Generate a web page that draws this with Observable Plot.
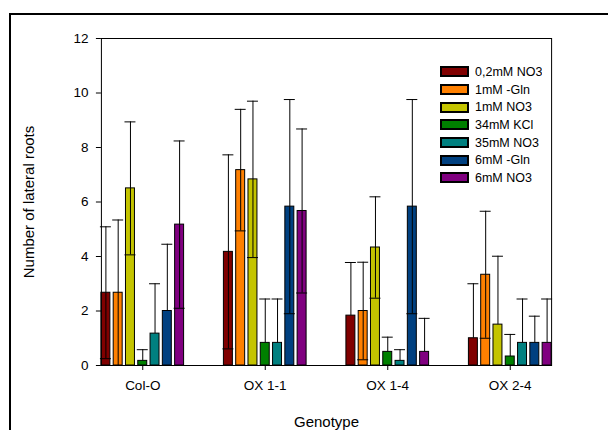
<!DOCTYPE html>
<html>
<head>
<meta charset="utf-8">
<script src="https://cdn.jsdelivr.net/npm/d3@7"></script>
<script src="https://cdn.jsdelivr.net/npm/@observablehq/plot@0.6"></script>
<style>
  body { margin: 0; background: #fff; }
  #wrap { position: relative; width: 608px; height: 430px; overflow: hidden; background: #fff; }
  #border { position: absolute; left: 9px; top: 13px; width: 700px; height: 500px;
            border-left: 2px solid #000; border-top: 2px solid #000; pointer-events: none; }
  #chart { position: absolute; left: 0; top: 0; }
  #legend { position: absolute; left: 441px; top: 63px; }
  #legend .lg-swatch { height: 17.7px; padding-bottom: 0 !important; margin: 0 !important; }
  #legend .lg-swatch svg { margin-right: 7px !important; }
  #legend .lg-swatch svg rect { stroke: #000; stroke-width: 2px; }
</style>
</head>
<body>
<div id="wrap"><div id="chart"></div><div id="legend"></div><div id="border"></div></div>
<script>
// Lateral root counts per genotype and nitrogen treatment (mean ± SD)
const genotypes = ["Col-O", "OX 1-1", "OX 1-4", "OX 2-4"];
const treatments = ["0,2mM NO3", "1mM -Gln", "1mM NO3", "34mM KCl", "35mM NO3", "6mM -Gln", "6mM NO3"];
const colors = ["#800000", "#ff8000", "#c4c400", "#008000", "#008080", "#004080", "#800080"];

const meanColO = [2.67, 2.67, 6.50, 0.17, 1.17, 2.00, 5.17];
const sdColO   = [2.42, 2.67, 2.44, 0.41, 1.83, 2.45, 3.07];
const meanOX11 = [4.17, 7.17, 6.83, 0.83, 0.83, 5.83, 5.67];
const sdOX11   = [3.56, 2.23, 2.87, 1.61, 1.61, 3.93, 3.01];
const meanOX14 = [1.83, 2.00, 4.33, 0.50, 0.17, 5.83, 0.50];
const sdOX14   = [1.95, 1.79, 1.86, 0.54, 0.41, 3.93, 1.23];
const meanOX24 = [1.00, 3.33, 1.50, 0.33, 0.83, 0.83, 0.83];
const sdOX24   = [2.00, 2.33, 2.51, 0.81, 1.61, 0.98, 1.61];

const yTicks = [0, 2, 4, 6, 8, 10, 12];

const means = [meanColO, meanOX11, meanOX14, meanOX24];
const sds = [sdColO, sdOX11, sdOX14, sdOX24];

const rows = genotypes.flatMap((g, i) =>
  treatments.map((t, j) => ({genotype: g, treatment: t, mean: means[i][j], sd: sds[i][j]}))
);
// the lower whisker is only shown when it stays above zero
const lowerRows = rows.filter(d => d.mean - d.sd >= 0);

const font = "'Liberation Sans', Arial, sans-serif";
const colorScale = {domain: treatments, range: colors};

const chart = Plot.plot({
  width: 608,
  height: 430,
  marginLeft: 81,
  marginRight: 37,
  marginTop: 38,
  marginBottom: 65,
  style: {fontFamily: font, fontSize: "13.5px", color: "#000", background: "transparent"},
  fx: {domain: genotypes, paddingInner: 0.325, paddingOuter: 0.1625, round: false},
  x: {domain: treatments, paddingInner: 0.27, paddingOuter: 0, axis: null, round: false},
  y: {domain: [0, 12]},
  color: colorScale,
  marks: [
    Plot.barY(rows, {fx: "genotype", x: "treatment", y: "mean", fill: "treatment", stroke: "#000", strokeWidth: 1}),
    Plot.ruleX(rows, {fx: "genotype", x: "treatment",
      y1: d => (d.mean - d.sd >= 0 ? d.mean - d.sd : d.mean), y2: d => d.mean + d.sd,
      stroke: "#000", strokeWidth: 1}),
    Plot.tickY(rows, {fx: "genotype", x: "treatment", y: d => d.mean + d.sd,
      stroke: "#000", strokeWidth: 1, insetLeft: -1, insetRight: -1}),
    Plot.tickY(lowerRows, {fx: "genotype", x: "treatment", y: d => d.mean - d.sd,
      stroke: "#000", strokeWidth: 1, insetLeft: -1, insetRight: -1}),
    Plot.axisY({ticks: yTicks, tickFormat: d => String(d), tickSize: 5, tickPadding: 8, label: null}),
    Plot.axisFx({anchor: "bottom", tickSize: 5, tickPadding: 10, label: null}),
    Plot.frame({facet: "super", stroke: "#000"}),
    Plot.text(["Genotype"], {facet: "super", frameAnchor: "bottom", dy: 61, lineAnchor: "bottom",
      fontSize: 15, fill: "#000"}),
    Plot.text(["Number of lateral roots"], {facet: "super", frameAnchor: "left", rotate: -90,
      textAnchor: "middle", lineAnchor: "bottom", dx: -67, fontSize: 15, fill: "#000"})
  ]
});
document.getElementById("chart").append(chart);

const legend = Plot.legend({
  color: colorScale,
  legend: "swatches",
  columns: 1,
  swatchWidth: 27,
  swatchHeight: 9,
  className: "lg",
  style: {fontFamily: font, fontSize: "12.5px", color: "#000", margin: "0"}
});
document.getElementById("legend").append(legend);
</script>
</body>
</html>
